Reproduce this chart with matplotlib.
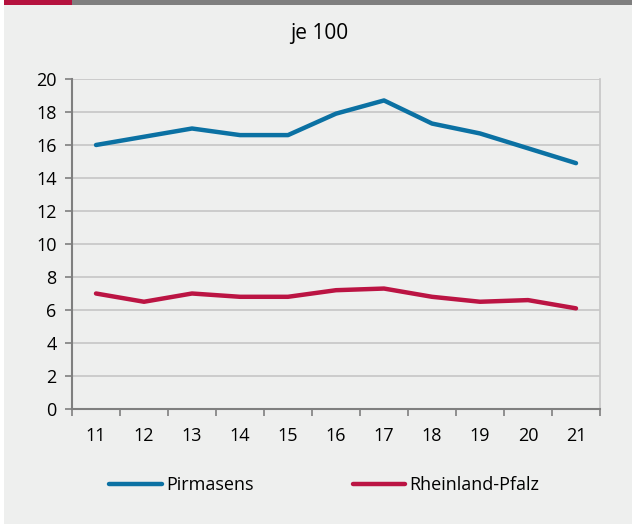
import matplotlib
matplotlib.use("Agg")
import matplotlib.pyplot as plt
import numpy as np

# values
years = ["11", "12", "13", "14", "15", "16", "17", "18", "19", "20", "21"]
pirmasens = [16.0, 16.5, 17.0, 16.6, 16.6, 17.9, 18.7, 17.3, 16.7, 15.8, 14.9]
rlp = [7.0, 6.5, 7.0, 6.8, 6.8, 7.2, 7.3, 6.8, 6.5, 6.6, 6.1]
yticks = [0, 2, 4, 6, 8, 10, 12, 14, 16, 18, 20]

blue = "#0b71a3"
red = "#bb1443"
bg = "#eeefee"
grey = "#7f7f7f"

plt.rcParams["font.family"] = ["Open Sans", "DejaVu Sans"]

fig = plt.figure(figsize=(6.32, 5.24), dpi=100)
fig.patch.set_facecolor("white")

# background panel and header bar
fig.patches.append(plt.Rectangle((4 / 632, 0), 1, 1 - 5 / 524, transform=fig.transFigure,
                                 facecolor=bg, edgecolor="none", zorder=0))
fig.patches.append(plt.Rectangle((4 / 632, 1 - 5 / 524), 1, 5 / 524, transform=fig.transFigure,
                                 facecolor=grey, edgecolor="none", zorder=1))
fig.patches.append(plt.Rectangle((4 / 632, 1 - 5 / 524), 68 / 632, 5 / 524, transform=fig.transFigure,
                                 facecolor="#b5123e", edgecolor="none", zorder=2))

ax = fig.add_axes([72 / 632, 115 / 524, 528 / 632, 330 / 524])
ax.set_zorder(5)
ax.set_facecolor(bg)

x = np.arange(len(years))
ax.plot(x, pirmasens, color=blue, lw=3.2, label="Pirmasens", solid_capstyle="round")
ax.plot(x, rlp, color=red, lw=3.2, label="Rheinland-Pfalz", solid_capstyle="round")

ax.set_xlim(-0.5, len(years) - 0.5)
ax.set_ylim(0, 20)
ax.set_yticks(yticks)
ax.set_xticks(x)
ax.set_xticklabels(years)
ax.set_xticks(np.arange(len(years) + 1) - 0.5, minor=True)
ax.tick_params(axis="x", which="major", length=0, pad=13, labelsize=13)
ax.tick_params(axis="x", which="minor", length=5, color=grey, width=1.2, direction="out")
ax.tick_params(axis="y", length=5, color=grey, width=1.2, labelsize=13, pad=6)

ax.grid(axis="y", color="#c6c6c6", lw=1.2)
ax.set_axisbelow(True)
for s in ["left", "bottom"]:
    ax.spines[s].set_color(grey)
    ax.spines[s].set_linewidth(1.5)
ax.spines["top"].set_visible(False)
ax.spines["right"].set_color("#c6c6c6")
ax.spines["right"].set_linewidth(1.2)

fig.text(0.505, 1 - 33 / 524, "je 100", ha="center", va="center", fontsize=15, zorder=6)

leg = fig.legend(loc="center", bbox_to_anchor=(0.513, 1 - 485 / 524), ncol=2, frameon=False,
                 fontsize=13, handlelength=2.9, handletextpad=0.22, columnspacing=5.5)
leg.set_zorder(6)

fig.savefig("out.png", dpi=100, facecolor=fig.get_facecolor())
